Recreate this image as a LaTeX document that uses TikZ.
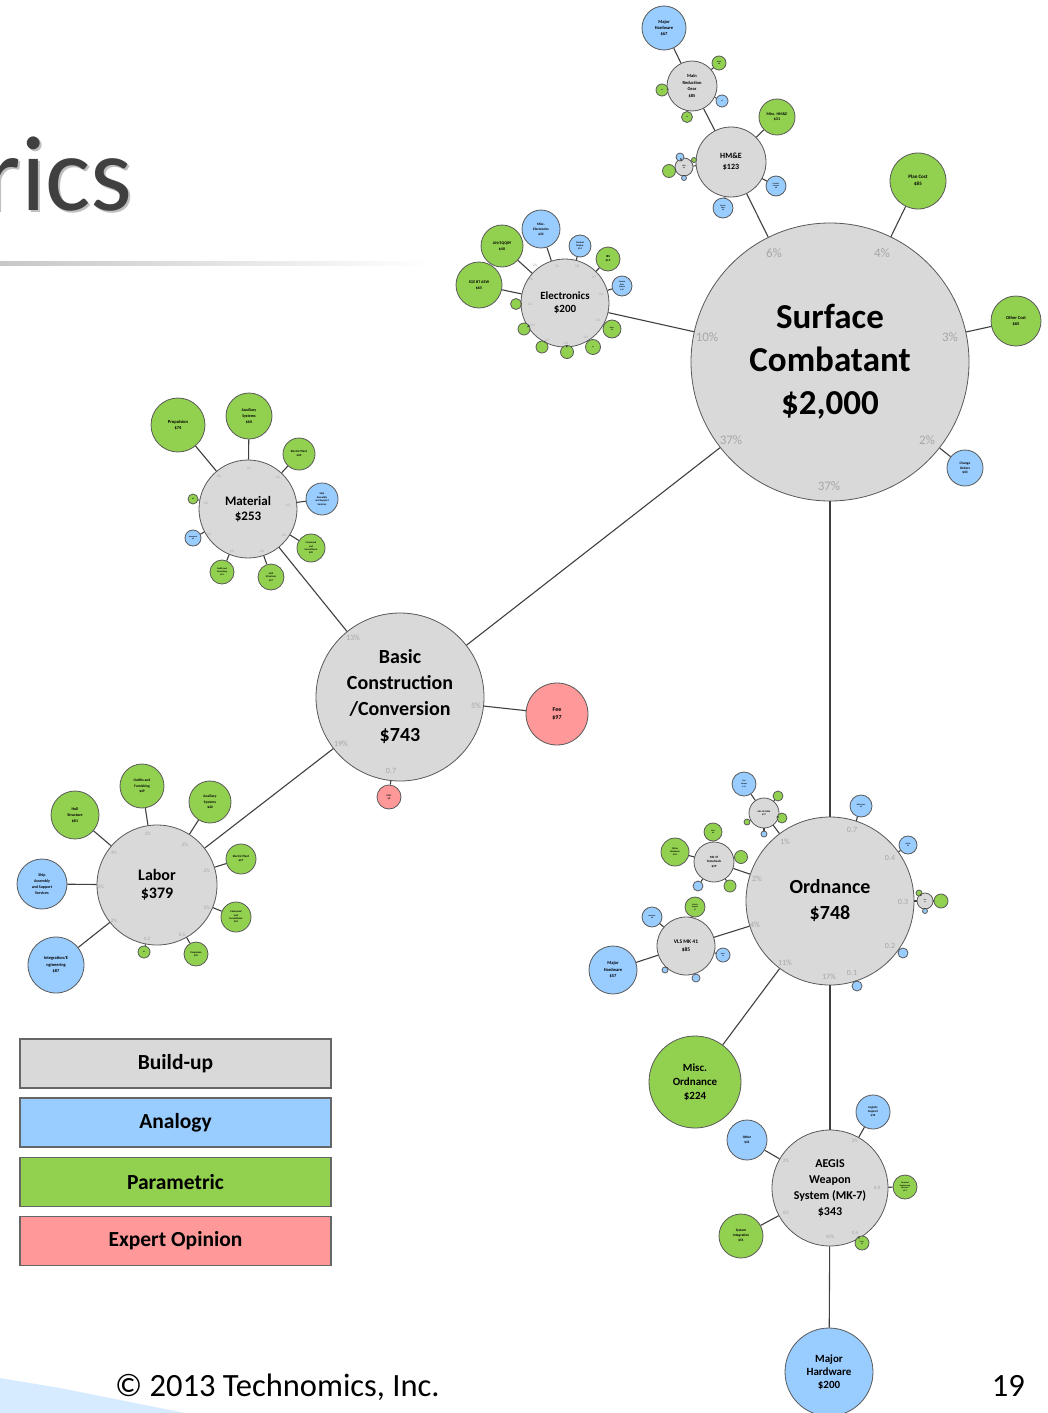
\documentclass[tikz,border=0pt]{standalone}
\usepackage{fontspec}
\setmainfont{Carlito}
\definecolor{cgray}{HTML}{D9D9D9}
\definecolor{cblue}{HTML}{99CCFF}
\definecolor{cgreen}{HTML}{92D050}
\definecolor{cred}{HTML}{FF9999}
\definecolor{cdark}{HTML}{404040}
\tikzset{
 bub/.style={circle, draw=black!65, line width=0.8pt, inner sep=0pt, align=center, text=black},
 gy/.style={bub, fill=cgray},
 bl/.style={bub, fill=cblue},
 gr/.style={bub, fill=cgreen},
 rd/.style={bub, fill=cred},
 fs/.style 2 args={font=\fontsize{#1}{#2}\selectfont\bfseries},
 conn/.style={draw=cdark, line width=1.1pt},
 pct/.style={text=black!35, inner sep=0pt, font=\fontsize{#1}{#1}\selectfont},
 legbox/.style={draw=black!60, line width=1.2pt, minimum width=311, minimum height=49, inner sep=0pt, font=\fontsize{21.5}{24}\selectfont\bfseries}
}
\begin{document}
\begin{tikzpicture}[x=1pt,y=-1pt]
\useasboundingbox (0,0) rectangle (1047,1413);
\fill[white] (0,0) rectangle (1047,1413);
% title
\node[anchor=base east, inner sep=0pt, text=black!25, font=\fontsize{107}{110}\selectfont] at (135,212) {rics};
\node[anchor=base east, inner sep=0pt, text=cdark, font=\fontsize{107}{110}\selectfont] (title) at (133,210) {rics};
\shade[left color=black!22, right color=white] (0,261) rectangle (430,265);
% footer
\fill[cblue!40] (0,1378) -- (60,1388) -- (185,1413) -- (0,1413) -- cycle;
\node[anchor=base west, inner sep=0pt, text=black, font=\fontsize{32.5}{34}\selectfont] (copy) at (115,1396) {© 2013 Technomics, Inc.};
\node[anchor=base east, inner sep=0pt, text=black, font=\fontsize{32.5}{34}\selectfont] (pnum) at (1025,1396) {19};
% legend
\node[legbox, fill=cgray] (lg1) at (175.5,1063.5) {Build-up};
\node[legbox, fill=cblue] (lg2) at (175.5,1122.5) {Analogy};
\node[legbox, fill=cgreen] (lg3) at (175.5,1182) {Parametric};
\node[legbox, fill=cred] (lg4) at (175.5,1241) {Expert Opinion};

% ===== Surface Combatant =====
\node[gy, minimum size=278, fs={35}{43}] (sc) at (830,362) {\raisebox{0pt}[0pt][0pt]{}Surface\\Combatant\\\$2,000};
\node[pct=13] (scp1) at (774,253) {6\%};
\node[pct=13] (scp2) at (882,253) {4\%};
\node[pct=13] (scp3) at (707,337) {10\%};
\node[pct=13] (scp4) at (950,337) {3\%};
\node[pct=13] (scp5) at (731,440) {37\%};
\node[pct=13] (scp6) at (927,440) {2\%};
\node[pct=13] (scp7) at (829,486) {37\%};
\node[gr, minimum size=56, fs={5}{7}] (pc) at (918,181) {Plan Cost\\\$85};
\node[gr, minimum size=50, fs={4.5}{6}] (oc) at (1016,321) {Other Cost\\\$65};
\node[bl, minimum size=36, fs={3.5}{4.5}] (co) at (965,468) {Change\\Orders\\\$43};

% ===== HM&E =====
\node[gy, minimum size=70, fs={8}{11}] (hme) at (731,162) {HM\&E\\\$123};
\node[gy, minimum size=50, fs={4.5}{6.5}] (mrg) at (692,86) {Main\\Reduction\\Gear\\\$85};
\node[bl, minimum size=44, fs={4.5}{6}] (mh1) at (664,28) {Major\\Hardware\\\$67};
\node[gr, minimum size=36, fs={4}{5.5}] (mhm) at (777,117) {Misc. HM\&E\\\$31};
\node[gr, minimum size=14, fs={1.8}{2.2}] (h1) at (719,63) {Shaft\\\$8};
\node[gr, minimum size=12, fs={1.6}{2}] (h2) at (662,90) {\$5};
\node[bl, minimum size=12, fs={1.6}{2}] (h3) at (722,101) {\$5};
\node[gr, minimum size=11, fs={1.6}{2}] (h4) at (687,117) {\$4};
\node[gy, minimum size=18, fs={1.8}{2.2}] (hs) at (684,167) {Misc\\\$9};
\node[bl, minimum size=8] (hs1) at (680,157) {};
\node[gr, minimum size=13] (hs2) at (669,171) {};
\node[gr, minimum size=5] (hs3) at (694,160) {};
\node[bl, minimum size=5] (hs4) at (684,178) {};
\node[bl, minimum size=20, fs={1.8}{2.4}] (hb1) at (776,186) {Auxiliary\\Systems\\\$8};
\node[bl, minimum size=20, fs={1.8}{2.4}] (hb2) at (723,208) {Electric\\Plant\\\$8};

% ===== Electronics =====
\node[gy, minimum size=88, fs={11}{13}] (el) at (565,303) {Electronics\\\$200};
\node[gr, minimum size=46, fs={4}{6}] (e1) at (479,285) {SGE BT AEW\\\$65};
\node[gr, minimum size=42, fs={4}{6}] (e2) at (502,246) {AN/SQQ89\\\$40};
\node[bl, minimum size=38, fs={3.5}{5}] (e3) at (541,229) {Misc.\\Electronics\\\$32};
\node[bl, minimum size=22, fs={2.4}{3.2}] (e4) at (580,246) {Combat\\Display\\\$14};
\node[gr, minimum size=24, fs={3}{4}] (e5) at (608,259) {IBS\\\$13};
\node[bl, minimum size=20, fs={2}{2.8}] (e6) at (622,286) {Combat\\Data\\System\\\$10};
\node[gr, minimum size=11] (e7) at (516,304) {};
\node[gr, minimum size=12] (e8) at (524,329) {};
\node[gr, minimum size=12] (e9) at (542,347) {};
\node[gr, minimum size=13] (e10) at (567,352) {};
\node[gr, minimum size=15, fs={1.6}{2}] (e11) at (593,347) {\$4};
\node[gr, minimum size=18, fs={1.8}{2.2}] (e12) at (612,329) {Other\\\$5};
\node[pct=3.5] (ep1) at (531,279) {3\%};
\node[pct=3.5] (ep2) at (535,265) {2\%};
\node[pct=3.5] (ep3) at (557,266) {2\%};
\node[pct=3.5] (ep4) at (577,266) {0.8};
\node[pct=3.5] (ep5) at (594,277) {0.7};
\node[pct=3.5] (ep6) at (601,294) {0.6};
\node[pct=3.5] (ep7) at (598,320) {0.3};
\node[pct=3.5] (ep8) at (586,337) {0.3};
\node[pct=3.5] (ep9) at (566,343) {0.3};
\node[pct=3.5] (ep10) at (547,340) {0.3};
\node[pct=3.5] (ep11) at (533,325) {0.3};
\node[pct=3.5] (ep12) at (530,304) {0.3};

% ===== Basic Construction =====
\node[gy, minimum size=168, fs={20}{26}] (bc) at (400,697) {Basic\\Construction\\/Conversion\\\$743};
\node[pct=8] (bcp1) at (353,638) {13\%};
\node[pct=8] (bcp2) at (476,706) {5\%};
\node[pct=8] (bcp3) at (341,744) {19\%};
\node[pct=8] (bcp4) at (391,771) {0.7};
\node[rd, minimum size=62, fs={6}{7.5}] (fee) at (557,714) {Fee\\\$97};
\node[rd, minimum size=24, fs={2.5}{3}] (bcr) at (389,797) {Misc\\\$5};

% ===== Material =====
\node[gy, minimum size=98, fs={13}{15}] (mat) at (248,509) {Material\\\$253};
\node[gr, minimum size=54, fs={4.5}{6.5}] (m1) at (178,425) {Propulsion\\\$74};
\node[gr, minimum size=46, fs={4}{6}] (m2) at (249,416) {Auxiliary\\Systems\\\$60};
\node[gr, minimum size=32, fs={3}{4}] (m3) at (299,454) {Electric Plant\\\$30};
\node[bl, minimum size=32, fs={2.6}{3.4}] (m4) at (322,499) {Ship\\Assembly\\and Support\\Services};
\node[gr, minimum size=28, fs={2.5}{3.3}] (m5) at (311,548) {Command\\and\\Surveillance\\\$20};
\node[gr, minimum size=26, fs={2.6}{3.6}] (m6) at (271,577) {Hull\\Structure\\\$17};
\node[gr, minimum size=24, fs={2.3}{3.2}] (m7) at (222,572) {Outfit and\\Furnishing\\\$14};
\node[bl, minimum size=16, fs={1.9}{2.5}] (m8) at (193,538) {Armament\\\$5};
\node[gr, minimum size=10, fs={1.8}{2}] (m9) at (193,499) {\$2};
\node[pct=3.5] (mp1) at (219,476) {3\%};
\node[pct=3.5] (mp2) at (249,468) {2\%};
\node[pct=3.5] (mp3) at (278,477) {2\%};
\node[pct=3.5] (mp4) at (288,505) {1\%};
\node[pct=3.5] (mp5) at (284,535) {1\%};
\node[pct=3.5] (mp6) at (262,551) {1\%};
\node[pct=3.5] (mp7) at (232,551) {1\%};
\node[pct=3.5] (mp8) at (209,534) {0.3};
\node[pct=3.5] (mp9) at (206,503) {0.2};

% ===== Labor =====
\node[gy, minimum size=120, fs={16}{18}] (lab) at (157,885) {Labor\\\$379};
\node[gr, minimum size=48, fs={4}{6}] (l1) at (75,815) {Hull\\Structure\\\$81};
\node[gr, minimum size=44, fs={3.6}{5.2}] (l2) at (142,786) {Outfits and\\Furnishing\\\$49};
\node[gr, minimum size=42, fs={3.6}{5.2}] (l3) at (210,802) {Auxiliary\\Systems\\\$40};
\node[gr, minimum size=30, fs={3}{4}] (l4) at (241,859) {Electric Plant\\\$27};
\node[gr, minimum size=30, fs={2.6}{3.4}] (l5) at (236,917) {Command\\and\\Surveillance\\\$21};
\node[gr, minimum size=24, fs={2.5}{3.3}] (l6) at (196,954) {Propulsion\\\$10};
\node[gr, minimum size=12, fs={1.8}{2.2}] (l7) at (144,952) {\$3};
\node[bl, minimum size=50, fs={4}{5.8}] (l8) at (42,884) {Ship\\Assembly\\and Support\\Services};
\node[bl, minimum size=56, fs={4.4}{6.5}] (l9) at (56,965) {Integration/E\\ngineering\\\$87};
\node[pct=5] (lp1) at (148,834) {2\%};
\node[pct=5] (lp2) at (185,845) {2\%};
\node[pct=5] (lp3) at (114,853) {3\%};
\node[pct=5] (lp4) at (207,871) {2\%};
\node[pct=5] (lp5) at (101,887) {2\%};
\node[pct=5] (lp6) at (114,921) {2\%};
\node[pct=5] (lp7) at (207,908) {2\%};
\node[pct=5] (lp8) at (147,939) {0.2};
\node[pct=5] (lp9) at (182,935) {0.5};

% ===== Ordnance =====
\node[gy, minimum size=168, fs={20}{26}] (ord) at (830,901) {Ordnance\\\$748};
\node[pct=8] (op1) at (852,830) {0.7};
\node[pct=8] (op2) at (890,858) {0.4};
\node[pct=8] (op3) at (903,902) {0.3};
\node[pct=8] (op4) at (785,842) {1\%};
\node[pct=8] (op5) at (757,879) {2\%};
\node[pct=8] (op6) at (755,925) {4\%};
\node[pct=8] (op7) at (785,963) {11\%};
\node[pct=8] (op8) at (829,977) {17\%};
\node[pct=8] (op9) at (852,973) {0.1};
\node[pct=8] (op10) at (890,946) {0.2};
\node[gr, minimum size=92, fs={11}{14}] (mo) at (695,1082) {Misc.\\Ordnance\\\$224};
\node[gy, minimum size=58, fs={5.5}{8}] (vls) at (686,946) {VLS MK 41\\\$85};
\node[bl, minimum size=48, fs={4.5}{6.5}] (omh) at (613,970) {Major\\Hardware\\\$57};
\node[bl, minimum size=20, fs={1.9}{2.5}] (v1) at (652,917) {Launcher\\\$6};
\node[gr, minimum size=20, fs={1.9}{2.5}] (v2) at (695,907) {Missile\\Support\\\$7};
\node[bl, minimum size=14, fs={1.7}{2.1}] (v3) at (723,955) {Other\\\$4};
\node[bl, minimum size=6] (v4) at (665,970) {};
\node[bl, minimum size=8] (v5) at (696,978) {};
\node[gy, minimum size=40, fs={3.2}{4.4}] (mk) at (714,862) {MK 37\\Tomahawk\\\$39};
\node[gr, minimum size=28, fs={2.4}{3.2}] (k1) at (675,852) {Other\\Hardware\\\$16};
\node[gr, minimum size=18, fs={1.9}{2.5}] (k2) at (713,832) {Misc\\\$6};
\node[gr, minimum size=13] (k3) at (741,857) {};
\node[bl, minimum size=10] (k4) at (698,886) {};
\node[gr, minimum size=12] (k5) at (730,886) {};
\node[gy, minimum size=30, fs={2.4}{3.2}] (gun) at (764,813) {MK 45 GUNS\\\$27};
\node[bl, minimum size=24, fs={2}{2.6}] (g1) at (744,784) {Gun\\Mount\\\$13};
\node[gr, minimum size=10] (g2) at (778,796) {};
\node[gr, minimum size=10] (g3) at (782,818) {};
\node[gr, minimum size=6] (g4) at (747,822) {};
\node[bl, minimum size=6] (g5) at (764,834) {};
\node[bl, minimum size=22, fs={1.9}{2.5}] (o1) at (861,806) {NSSM Sprt\\\$5};
\node[bl, minimum size=18, fs={1.8}{2.3}] (o2) at (908,845) {Mk 86\\\$3};
\node[gy, minimum size=16, fs={1.5}{1.9}] (os) at (925,901) {Misc\\\$2};
\node[gr, minimum size=14] (os1) at (941,901) {};
\node[gr, minimum size=6] (os2) at (919,893) {};
\node[bl, minimum size=5] (os3) at (925,911) {};
\node[bl, minimum size=10] (o3) at (903,953) {};
\node[bl, minimum size=10] (o4) at (857,986) {};

% ===== AEGIS =====
\node[gy, minimum size=116, fs={12}{16}] (ae) at (830,1188) {AEGIS\\Weapon\\System (MK-7)\\\$343};
\node[pct=5] (ap1) at (855,1141) {2\%};
\node[pct=5] (ap2) at (786,1161) {2\%};
\node[pct=5] (ap3) at (877,1188) {0.8};
\node[pct=5] (ap4) at (786,1213) {6\%};
\node[pct=5] (ap5) at (830,1237) {10\%};
\node[pct=5] (ap6) at (855,1233) {0.6};
\node[bl, minimum size=34, fs={3}{4}] (a1) at (873,1112) {Logistic\\Support\\\$35};
\node[bl, minimum size=40, fs={3.5}{5}] (a2) at (747,1140) {Other\\\$41};
\node[gr, minimum size=24, fs={2.1}{2.7}] (a3) at (905,1187) {Technical\\Engineering\\Services\\\$12};
\node[gr, minimum size=44, fs={3.5}{5}] (a4) at (741,1236) {System\\Integration\\\$51};
\node[gr, minimum size=14, fs={1.7}{2.1}] (a5) at (862,1243) {Other\\\$6};
\node[bl, minimum size=88, fs={11}{13}] (mhb) at (829,1372) {Major\\Hardware\\\$200};

% ===== connectors =====
\foreach \a/\b in {sc/hme, sc/el, sc/pc, sc/oc, sc/co, sc/bc, sc/ord,
  hme/mrg, mrg/mh1, hme/mhm, mrg/h1, mrg/h2, mrg/h3, mrg/h4, hme/hs, hs/hs1, hs/hs2, hs/hs3, hs/hs4, hme/hb1, hme/hb2,
  el/e1, el/e2, el/e3, el/e4, el/e5, el/e6, el/e7, el/e8, el/e9, el/e10, el/e11, el/e12,
  bc/mat, bc/lab, bc/fee, bc/bcr,
  mat/m1, mat/m2, mat/m3, mat/m4, mat/m5, mat/m6, mat/m7, mat/m8, mat/m9,
  lab/l1, lab/l2, lab/l3, lab/l4, lab/l5, lab/l6, lab/l7, lab/l8, lab/l9,
  ord/mo, ord/vls, vls/omh, vls/v1, vls/v2, vls/v3, vls/v4, vls/v5,
  ord/mk, mk/k1, mk/k2, mk/k3, mk/k4, mk/k5,
  ord/gun, gun/g1, gun/g2, gun/g3, gun/g4, gun/g5,
  ord/o1, ord/o2, ord/os, os/os1, os/os2, os/os3, ord/o3, ord/o4,
  ord/ae, ae/a1, ae/a2, ae/a3, ae/a4, ae/a5, ae/mhb}
  {\draw[conn] (\a) -- (\b);}
\end{tikzpicture}
\end{document}
